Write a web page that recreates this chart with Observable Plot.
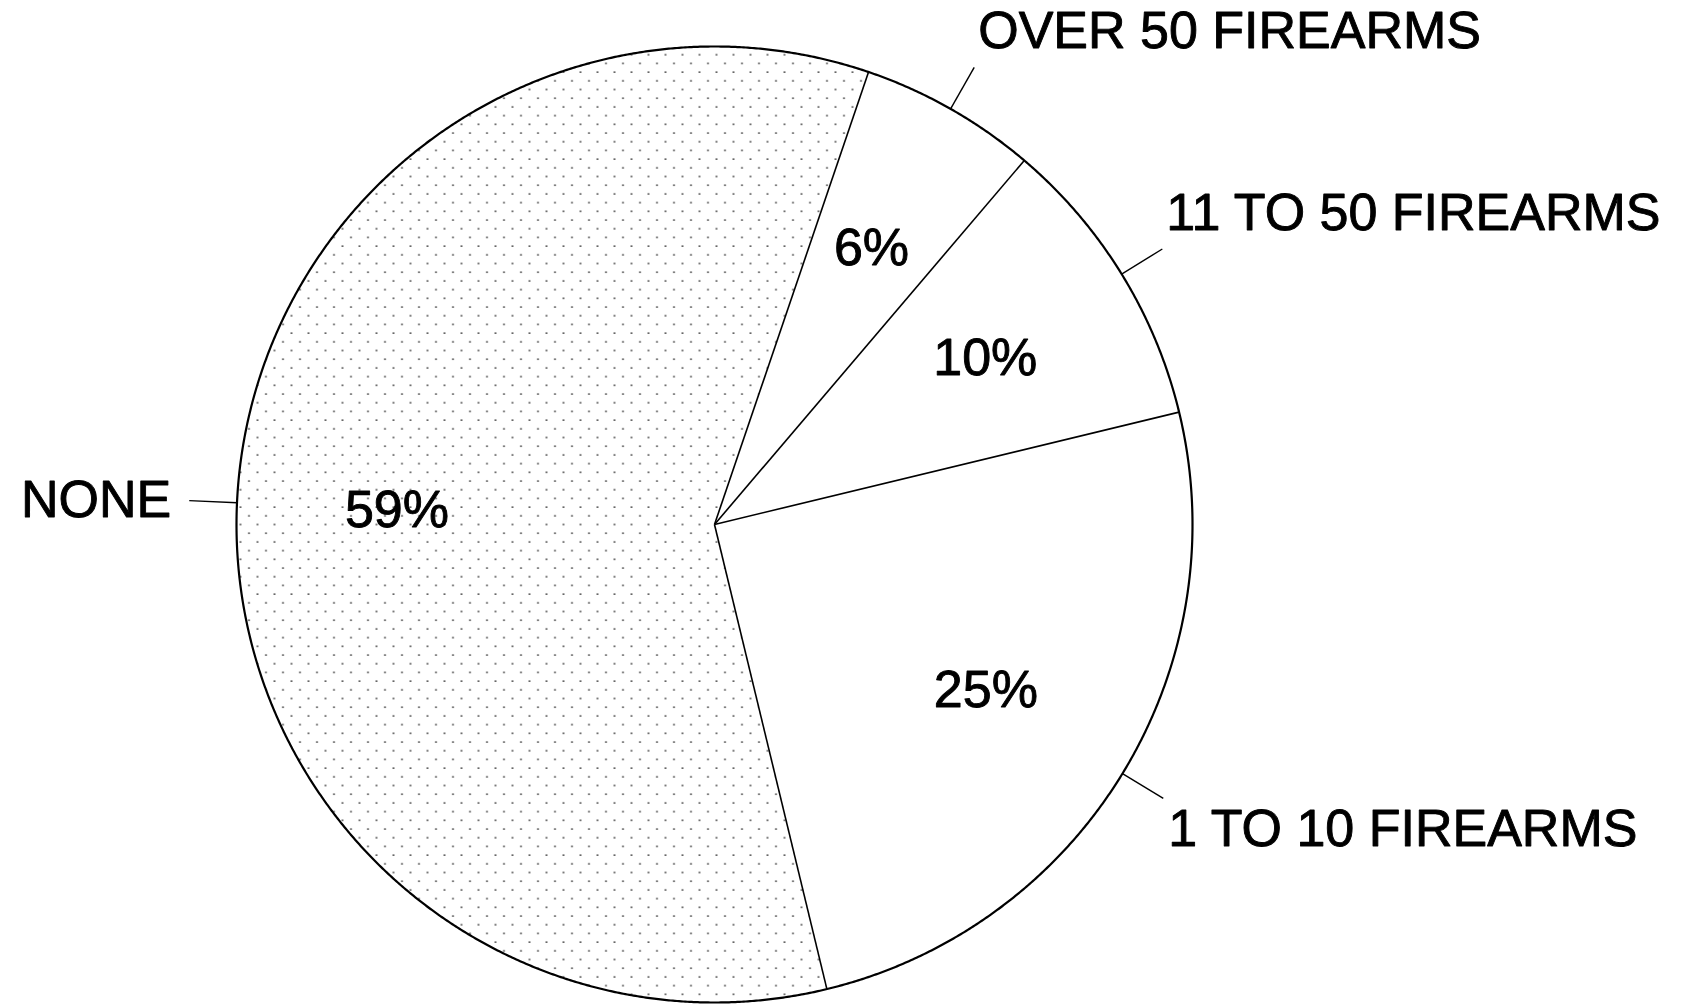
<!DOCTYPE html>
<html>
<head>
<meta charset="utf-8">
<script src="https://cdn.jsdelivr.net/npm/d3@7"></script>
<script src="https://cdn.jsdelivr.net/npm/@observablehq/plot@0.6"></script>
<style>
  html, body { margin: 0; padding: 0; background: #fff; }
  #chart { width: 1696px; height: 1004px; overflow: hidden; }
</style>
</head>
<body>
<div id="chart"></div>
<script>
// ---- data ----
const categories = ["OVER 50 FIREARMS", "11 TO 50 FIREARMS", "1 TO 10 FIREARMS", "NONE"];
const percents = [6, 10, 25, 59];
const shadedCategories = ["NONE"];
const startAngleDeg = 18.8; // clockwise from 12 o'clock

// ---- layout ----
const W = 1696, H = 1004;
const CX = 714, CY = 524, R = 478;
const FONT = 52;
const TEXT_STROKE = 0.9;

const total = d3.sum(percents);
let acc = startAngleDeg * Math.PI / 180;
const slices = categories.map((c, i) => {
  const a0 = acc;
  const a1 = acc + percents[i] / total * 2 * Math.PI;
  acc = a1;
  return {category: c, value: percents[i], a0, a1, mid: (a0 + a1) / 2};
});
const pt = (a, r) => ({x: r * Math.sin(a), y: r * Math.cos(a)});

const polys = slices.flatMap(s => {
  const n = Math.max(2, Math.ceil((s.a1 - s.a0) / (Math.PI / 720)));
  const pts = [{category: s.category, x: 0, y: 0}];
  for (let k = 0; k <= n; k++) pts.push({category: s.category, ...pt(s.a0 + (s.a1 - s.a0) * k / n, 1)});
  pts.push({category: s.category, x: 0, y: 0});
  return pts;
});
const outline = d3.range(0, 1441).map(k => pt(k / 1440 * 2 * Math.PI, 1));

const radials = slices.map(s => { const p = pt(s.a0, 1); return {x2: p.x, y2: p.y}; });
const leaders = slices.map(s => {
  const p1 = pt(s.mid, 1), p2 = pt(s.mid, 1.10);
  return {...s, x1: p1.x, y1: p1.y, x2: p2.x, y2: p2.y};
});
const pctLabels = slices.map(s => ({...s, ...pt(s.mid, 0.665)}));

const rightTop = leaders.filter(d => Math.sin(d.mid) >= 0 && Math.cos(d.mid) >= 0);
const rightBottom = leaders.filter(d => Math.sin(d.mid) >= 0 && Math.cos(d.mid) < 0);
const left = leaders.filter(d => Math.sin(d.mid) < 0);

const isShaded = d => shadedCategories.includes(d.category);
const textStyle = {fontSize: FONT, fill: "black", stroke: "black", strokeWidth: TEXT_STROKE};

const plot = Plot.plot({
  width: W,
  height: H,
  margin: 0,
  x: {domain: [-1, 1], range: [CX - R, CX + R], axis: null},
  y: {domain: [-1, 1], range: [CY + R, CY - R], axis: null},
  style: {fontFamily: "'Liberation Sans', Arial, Helvetica, sans-serif", background: "white", color: "black"},
  marks: [
    Plot.line(polys.filter(d => !isShaded(d)), {x: "x", y: "y", z: "category", fill: "white", stroke: "none"}),
    Plot.line(polys.filter(isShaded), {x: "x", y: "y", z: "category", fill: "url(#dots)", stroke: "none"}),
    Plot.link(radials, {x1: 0, y1: 0, x2: "x2", y2: "y2", stroke: "black", strokeWidth: 1.6}),
    Plot.line(outline, {x: "x", y: "y", stroke: "black", strokeWidth: 2.2}),
    Plot.link(leaders, {x1: "x1", y1: "y1", x2: "x2", y2: "y2", stroke: "black", strokeWidth: 1.4}),
    Plot.text(pctLabels, {x: "x", y: "y", text: d => `${d.value}%`, textAnchor: "middle", lineAnchor: "middle", ...textStyle}),
    Plot.text(rightTop, {x: "x2", y: "y2", text: "category", textAnchor: "start", lineAnchor: "bottom", dx: 4, dy: -19, ...textStyle}),
    Plot.text(rightBottom, {x: "x2", y: "y2", text: "category", textAnchor: "start", lineAnchor: "top", dx: 5, dy: 11, ...textStyle}),
    Plot.text(left, {x: "x2", y: "y2", text: "category", textAnchor: "end", lineAnchor: "middle", dx: -18, dy: 0, ...textStyle})
  ]
});

plot.insertAdjacentHTML("afterbegin",
  `<defs><pattern id="dots" patternUnits="userSpaceOnUse" width="17" height="17.4">
     <rect width="17" height="17.4" fill="white"></rect>
     <circle cx="2" cy="2" r="0.85" fill="#111"></circle>
     <circle cx="10.5" cy="10.7" r="0.85" fill="#111"></circle>
   </pattern></defs>`);

document.getElementById("chart").appendChild(plot);
</script>
</body>
</html>
